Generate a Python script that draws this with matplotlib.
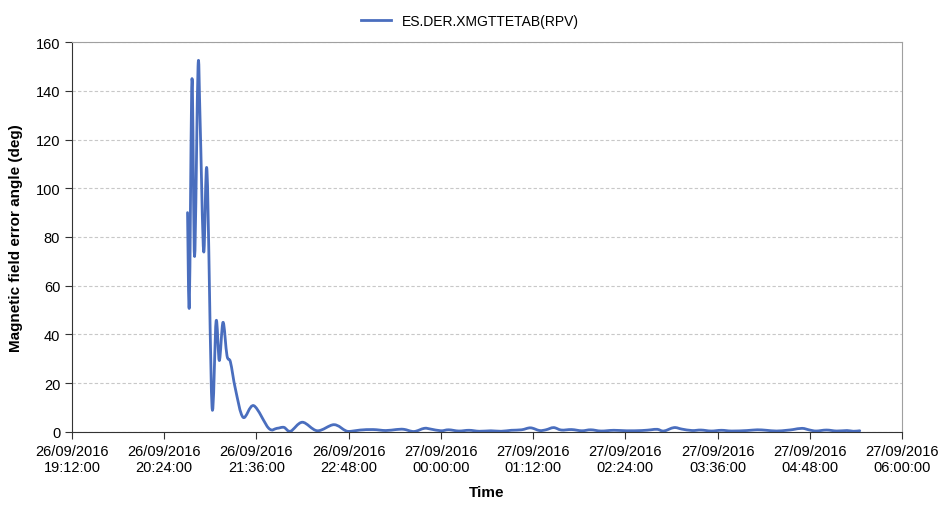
import numpy as np
import pandas as pd
import matplotlib
matplotlib.use("Agg")
import matplotlib.pyplot as plt
import matplotlib.dates as mdates
from matplotlib.path import Path
from matplotlib.patches import PathPatch

plt.rcParams['font.family'] = ['Liberation Sans', 'DejaVu Sans']

# readings (time, angle in deg)
times = [
    "2016-09-26 20:42:12", "2016-09-26 20:43:36", "2016-09-26 20:45:42", "2016-09-26 20:47:42",
    "2016-09-26 20:50:24", "2016-09-26 20:52:00", "2016-09-26 20:54:48", "2016-09-26 20:57:24",
    "2016-09-26 21:01:18", "2016-09-26 21:04:30", "2016-09-26 21:07:00", "2016-09-26 21:09:54",
    "2016-09-26 21:13:00", "2016-09-26 21:15:42", "2016-09-26 21:19:36", "2016-09-26 21:25:36",
    "2016-09-26 21:33:54", "2016-09-26 21:45:36", "2016-09-26 21:52:00", "2016-09-26 21:57:24",
    "2016-09-26 22:02:36", "2016-09-26 22:11:48", "2016-09-26 22:23:30", "2016-09-26 22:36:30",
    "2016-09-26 22:45:42", "2016-09-26 22:50:00", "2016-09-26 22:57:00", "2016-09-26 23:07:00",
    "2016-09-26 23:17:00", "2016-09-26 23:25:00", "2016-09-26 23:31:00", "2016-09-26 23:39:00",
    "2016-09-26 23:47:00", "2016-09-26 23:52:00", "2016-09-27 00:00:00", "2016-09-27 00:06:00",
    "2016-09-27 00:14:00", "2016-09-27 00:22:00", "2016-09-27 00:30:00", "2016-09-27 00:39:00",
    "2016-09-27 00:47:00", "2016-09-27 00:55:00", "2016-09-27 01:03:00", "2016-09-27 01:10:00",
    "2016-09-27 01:17:00", "2016-09-27 01:22:00", "2016-09-27 01:28:00", "2016-09-27 01:34:00",
    "2016-09-27 01:42:00", "2016-09-27 01:50:00", "2016-09-27 01:57:00", "2016-09-27 02:05:00",
    "2016-09-27 02:15:00", "2016-09-27 02:25:00", "2016-09-27 02:37:00", "2016-09-27 02:44:00",
    "2016-09-27 02:49:00", "2016-09-27 02:54:00", "2016-09-27 03:02:00", "2016-09-27 03:08:00",
    "2016-09-27 03:16:00", "2016-09-27 03:23:00", "2016-09-27 03:31:00", "2016-09-27 03:39:00",
    "2016-09-27 03:47:00", "2016-09-27 03:59:00", "2016-09-27 04:07:00", "2016-09-27 04:14:00",
    "2016-09-27 04:22:00", "2016-09-27 04:30:00", "2016-09-27 04:35:00", "2016-09-27 04:42:00",
    "2016-09-27 04:48:00", "2016-09-27 04:53:00", "2016-09-27 05:01:00", "2016-09-27 05:09:00",
    "2016-09-27 05:17:00", "2016-09-27 05:22:00", "2016-09-27 05:27:00",
]
angle = [
    90, 52, 145, 72,
    150, 128, 74, 107,
    10.5, 45.5, 29.3, 45,
    31.3, 28.7, 17.6, 6,
    10.8, 1.5, 1.5, 1.9,
    0.3, 4, 0.5, 3,
    0.5, 0.3, 0.8, 1.0,
    0.6, 1.0, 1.1, 0.2,
    1.5, 1.2, 0.5, 0.9,
    0.4, 0.7, 0.3, 0.5,
    0.3, 0.7, 0.9, 1.7,
    0.6, 0.9, 1.8, 0.8,
    1.0, 0.5, 0.9, 0.4,
    0.7, 0.5, 0.6, 0.9,
    1.1, 0.4, 1.8, 1.2,
    0.6, 0.8, 0.4, 0.7,
    0.4, 0.6, 0.9, 0.7,
    0.4, 0.7, 1.0, 1.5,
    0.8, 0.4, 0.8, 0.4,
    0.6, 0.3, 0.5,
]
series_name = "ES.DER.XMGTTETAB(RPV)"
x_start = "2016-09-26 19:12:00"
x_end = "2016-09-27 06:00:00"
line_color = "#4A6EBE"


def smooth_path(x, y, k=1/6):
    # excel-style smoothed line: cubic bezier through every point
    x = np.asarray(x, float)
    y = np.asarray(y, float)
    verts = [(x[0], y[0])]
    codes = [Path.MOVETO]
    n = len(x)
    for i in range(n - 1):
        p0 = i - 1 if i > 0 else i
        p3 = i + 2 if i + 2 < n else i + 1
        c1 = (x[i] + (x[i + 1] - x[p0]) * k, y[i] + (y[i + 1] - y[p0]) * k)
        c2 = (x[i + 1] - (x[p3] - x[i]) * k, y[i + 1] - (y[p3] - y[i]) * k)
        verts += [c1, c2, (x[i + 1], y[i + 1])]
        codes += [Path.CURVE4] * 3
    return Path(verts, codes)


t = pd.to_datetime(times)
ticks = pd.date_range(x_start, x_end, freq="72min")

fig = plt.figure(figsize=(9.4, 5.06), dpi=100)
ax = fig.add_axes([0.0766, 0.1443, 0.883, 0.7707])

ax.add_patch(PathPatch(smooth_path(mdates.date2num(t), angle), fill=False,
                       edgecolor=line_color, lw=2.0, joinstyle="round", capstyle="round"))
ax.plot([], [], color=line_color, lw=2.0, label=series_name)  # legend entry

ax.set_xlim(pd.Timestamp(x_start), pd.Timestamp(x_end))
ax.set_ylim(0, 160)
ax.set_yticks(np.arange(0, 161, 20))
ax.set_xticks(ticks)
ax.xaxis.set_major_formatter(mdates.DateFormatter("%d/%m/%Y\n%H:%M:%S"))

ax.grid(axis="y", color="#C8C8C8", linestyle=(0, (3, 2)), lw=0.8)
ax.set_axisbelow(True)
for s in ["top", "right"]:
    ax.spines[s].set_color("#A0A0A0")
for s in ["left", "bottom"]:
    ax.spines[s].set_color("#333333")
ax.tick_params(axis="both", labelsize=10.5, color="#333333", length=5, direction="out")

ax.set_ylabel("Magnetic field error angle (deg)", fontsize=11, fontweight="bold", labelpad=9)
ax.set_xlabel("Time", fontsize=11, fontweight="bold", labelpad=8)

fig.legend(loc="upper center", bbox_to_anchor=(0.5, 0.995), frameon=False,
           fontsize=10, handlelength=2.2)

fig.savefig("out.png", dpi=100)
